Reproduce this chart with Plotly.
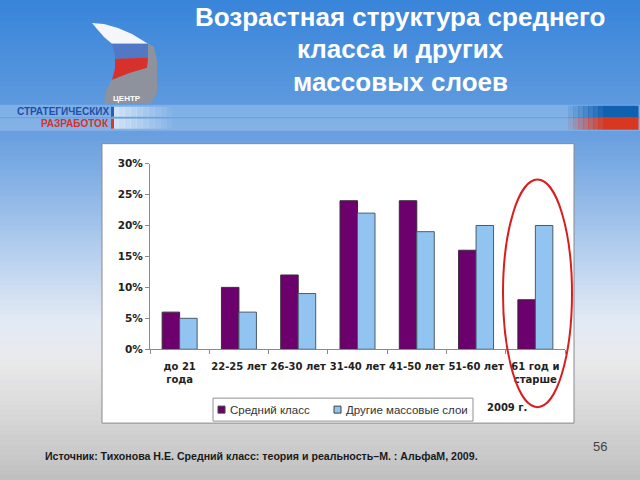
import plotly.graph_objects as go

# ---- data ----
categories = ["до 21<br>года", "22-25 лет", "26-30 лет", "31-40 лет", "41-50 лет", "51-60 лет", "61 год и<br>старше"]
series_names = ["Средний класс", "Другие массовые слои"]
series_colors = ["#6c006c", "#92c4f2"]
middle_class = [6, 10, 12, 24, 24, 16, 8]
other_layers = [5, 6, 9, 22, 19, 20, 20]
y_tick_vals = [0, 5, 10, 15, 20, 25, 30]
y_tick_text = ["0%", "5%", "10%", "15%", "20%", "25%", "30%"]
title_lines = ["Возрастная структура среднего", "класса и других", "массовых слоев"]
source_text = "Источник: Тихонова Н.Е. Средний класс: теория и реальность–М. : АльфаМ, 2009."
year_note = "2009 г."
page_no = "56"

W, H = 640, 480
# screen-pixel -> paper coordinates (vertical compensates the observed page fit)
def px(x):
    return x / W
def py(y):
    return 1 - ((y - 5.05) / 0.977) / H

fig = go.Figure()
fig.add_trace(go.Bar(x=categories, y=middle_class, name=series_names[0], showlegend=False,
                     marker=dict(color=series_colors[0], line=dict(color="#3a2a3a", width=1))))
fig.add_trace(go.Bar(x=categories, y=other_layers, name=series_names[1], showlegend=False,
                     marker=dict(color=series_colors[1], line=dict(color="#4a5a6a", width=1))))

shapes = []
stops = [(0, (0x38, 0x85, 0xda)), (100, (0x5c, 0x98, 0xde)), (140, (0x6c, 0xa1, 0xe0)),
         (200, (0x92, 0xb9, 0xe8)), (260, (0xbb, 0xd2, 0xef)), (320, (0xe2, 0xea, 0xf5)),
         (360, (0xea, 0xea, 0xec)), (420, (0xd6, 0xd6, 0xd6)), (480, (0xbf, 0xbf, 0xbf))]
def col_at(y):
    for (y0, c0), (y1, c1) in zip(stops[:-1], stops[1:]):
        if y0 <= y <= y1:
            t = (y - y0) / (y1 - y0)
            c = [round(a + (b - a) * t) for a, b in zip(c0, c1)]
            return "rgb(%d,%d,%d)" % tuple(c)
    return "rgb(191,191,191)"
step = 5
for y in range(-10, H + 10, step):
    shapes.append(dict(type="rect", xref="paper", yref="paper", x0=0, x1=1,
                       y0=py(y + step + 0.6), y1=py(y), fillcolor=col_at(min(max(y + step / 2, 0), 480)),
                       line=dict(width=0), layer="below"))
shapes.append(dict(type="rect", xref="paper", yref="paper", x0=0, x1=1, y0=py(130), y1=py(104),
                   fillcolor="rgba(200,225,250,0.30)", line=dict(width=0), layer="below"))
shapes.append(dict(type="line", xref="paper", yref="paper", x0=0, x1=1, y0=py(117), y1=py(117),
                   line=dict(color="rgba(90,140,200,0.5)", width=1), layer="below"))
for i in range(14):
    x0 = 568 + i * 5
    a = min(1, (i + 1) / 8)
    shapes.append(dict(type="rect", xref="paper", yref="paper", x0=px(x0), x1=px(x0 + 5.5),
                       y0=py(117), y1=py(105), fillcolor="rgba(16,96,176,%.2f)" % a,
                       line=dict(width=0), layer="below"))
    shapes.append(dict(type="rect", xref="paper", yref="paper", x0=px(x0), x1=px(x0 + 5.5),
                       y0=py(129), y1=py(117), fillcolor="rgba(216,56,32,%.2f)" % a,
                       line=dict(width=0), layer="below"))
for i in range(10):
    x0 = 112 + i * 6
    a = 0.7 * (1 - i / 10)
    shapes.append(dict(type="rect", xref="paper", yref="paper", x0=px(x0), x1=px(x0 + 6.5), y0=py(116), y1=py(106),
                       fillcolor="rgba(240,246,253,%.2f)" % a, line=dict(width=0), layer="below"))
    shapes.append(dict(type="rect", xref="paper", yref="paper", x0=px(x0), x1=px(x0 + 6.5), y0=py(128), y1=py(118),
                       fillcolor="rgba(240,246,253,%.2f)" % a, line=dict(width=0), layer="below"))
shapes.append(dict(type="rect", xref="paper", yref="paper", x0=px(111), x1=px(114), y0=py(128), y1=py(118),
                   fillcolor="#d83a2a", line=dict(width=0), layer="below"))
shapes.append(dict(type="rect", xref="paper", yref="paper", x0=px(111), x1=px(114), y0=py(116), y1=py(106),
                   fillcolor="#2a5fb0", line=dict(width=0), layer="below"))

def path(points):
    s = "M %f,%f " % (px(points[0][0]), py(points[0][1]))
    for x, y in points[1:]:
        s += "L %f,%f " % (px(x), py(y))
    return s + "Z"

shapes.append(dict(type="path", xref="paper", yref="paper",
                   path=path([(148, 43), (154, 46), (157, 60), (157, 92), (151, 103), (104, 103), (106, 90),
                              (112, 79), (130, 72), (147, 67)]),
                   fillcolor="#8e929c", line=dict(width=0), layer="below"))
shapes.append(dict(type="path", xref="paper", yref="paper",
                   path=path([(92, 22), (104, 23), (118, 27), (132, 33), (148, 43), (112, 43), (104, 36), (97, 28)]),
                   fillcolor="#f4f6fa", line=dict(width=0), layer="below"))
shapes.append(dict(type="path", xref="paper", yref="paper",
                   path=path([(112, 43), (148, 43), (148, 57), (115, 58), (114, 50)]),
                   fillcolor="#5078c4", line=dict(width=0), layer="below"))
shapes.append(dict(type="path", xref="paper", yref="paper",
                   path=path([(115, 58), (148, 57), (147, 67), (130, 72), (112, 79), (115, 68)]),
                   fillcolor="#d8302a", line=dict(width=0), layer="below"))

shapes.append(dict(type="rect", xref="paper", yref="paper", x0=px(102), x1=px(574), y0=py(423), y1=py(143),
                   fillcolor="white", line=dict(color="#8a8a8a", width=1), layer="below"))
shapes.append(dict(type="rect", xref="paper", yref="paper", x0=px(213), x1=px(473), y0=py(421), y1=py(398),
                   fillcolor="white", line=dict(color="#909090", width=1), layer="below"))
legend_swatch_x = [218, 334]
for sx, c in zip(legend_swatch_x, series_colors):
    shapes.append(dict(type="rect", xref="paper", yref="paper", x0=px(sx), x1=px(sx + 7), y0=py(413), y1=py(406),
                       fillcolor=c, line=dict(color="#404040", width=1), layer="below"))
shapes.append(dict(type="circle", xref="paper", yref="paper", x0=px(503), x1=px(572), y0=py(407), y1=py(179),
                   line=dict(color="#d81e1e", width=2), fillcolor="rgba(0,0,0,0)", layer="above"))

def ann(text, x, y, size, color, family="Liberation Sans, Arial", xanchor="center"):
    return dict(text=text, x=px(x), y=py(y), xref="paper", yref="paper", showarrow=False,
                xanchor=xanchor, yanchor="middle", font=dict(family=family, size=size, color=color))

annotations = []
for sx, name in zip(legend_swatch_x, series_names):
    annotations.append(ann(name, sx + 10, 410, 11.5, "#333", xanchor="left"))
for i, t in enumerate(title_lines):
    annotations.append(ann("<b>%s</b>" % t, 400, 16 + i * 32.5, 26, "white"))
annotations.append(ann("<b>ЦЕНТР</b>", 127, 98, 8, "white"))
annotations.append(ann("<b>СТРАТЕГИЧЕСКИХ</b>", 111, 111, 10, "#1f4fa8", xanchor="right"))
annotations.append(ann("<b>РАЗРАБОТОК</b>", 111, 123, 10, "#d8302a", xanchor="right"))
annotations.append(ann("<b>%s</b>" % year_note, 507, 407, 10, "#222", family="DejaVu Sans"))
annotations.append(ann("<b>%s</b>" % source_text, 43, 456, 10.6, "#1a1a1a", xanchor="left"))
annotations.append(ann(page_no, 600, 446, 13, "#444"))

fig.update_layout(
    width=W, height=H,
    margin=dict(l=0, r=0, t=0, b=0),
    paper_bgcolor="#cfd9e6", plot_bgcolor="rgba(0,0,0,0)",
    barmode="group", bargap=0.41, bargroupgap=0,
    shapes=shapes, annotations=annotations,
    showlegend=False,
    xaxis=dict(domain=[px(150), px(565)], showgrid=False, showline=True, linecolor="#8a8a8a",
               ticks="outside", ticklen=4, tickcolor="#8a8a8a", tickson="boundaries", ticklabelstandoff=8,
               tickfont=dict(family="DejaVu Sans", size=10, color="#222", weight="bold"), tickangle=0),
    yaxis=dict(domain=[py(349), py(163)], range=[0, 30], showgrid=False, zeroline=False,
               showline=True, linecolor="#8a8a8a", ticks="outside", ticklen=4, tickcolor="#8a8a8a",
               tickvals=y_tick_vals, ticktext=y_tick_text,
               tickfont=dict(family="DejaVu Sans", size=10.5, color="#222", weight="bold")),
)
fig.write_html("out.html", config={"displayModeBar": False},
               post_script="document.body.style.margin='0';document.body.style.overflow='hidden';"
                           "document.documentElement.style.background='linear-gradient(#3885da 0 50%, #bfbfbf 50% 100%)';"
                           "document.body.style.background='transparent';")
